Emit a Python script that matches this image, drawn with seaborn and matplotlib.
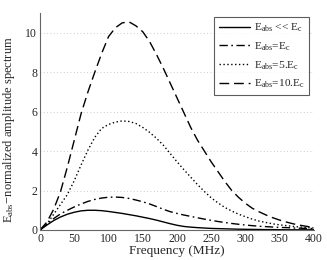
import numpy as np
import pandas as pd
import seaborn as sns
import matplotlib
matplotlib.use("Agg")
import matplotlib.pyplot as plt

# Frequency grid (MHz)
freq = list(range(0, 401, 10))

# Amplitude spectra
e_low = [0, 0.25, 0.48, 0.66, 0.80, 0.90, 0.97, 1.00, 1.00, 0.98,
         0.94, 0.89, 0.84, 0.78, 0.72, 0.65, 0.58, 0.50, 0.41, 0.32,
         0.24, 0.18, 0.145, 0.12, 0.10, 0.08, 0.07, 0.06, 0.05, 0.04,
         0.035, 0.03, 0.025, 0.02, 0.02, 0.015, 0.01, 0.01, 0.01, 0.01, 0.01]
e_1 = [0, 0.30, 0.58, 0.82, 1.00, 1.17, 1.32, 1.45, 1.55, 1.62,
       1.66, 1.67, 1.65, 1.60, 1.52, 1.43, 1.32, 1.19, 1.05, 0.93,
       0.84, 0.76, 0.69, 0.62, 0.55, 0.49, 0.43, 0.38, 0.33, 0.29,
       0.25, 0.22, 0.19, 0.17, 0.15, 0.13, 0.12, 0.10, 0.09, 0.08, 0.07]
e_5 = [0, 0.30, 0.80, 1.30, 1.80, 2.50, 3.30, 4.05, 4.70, 5.15,
       5.35, 5.47, 5.53, 5.50, 5.40, 5.20, 4.95, 4.65, 4.30, 3.88,
       3.46, 3.06, 2.68, 2.30, 1.95, 1.63, 1.37, 1.14, 0.96, 0.80,
       0.67, 0.55, 0.45, 0.38, 0.31, 0.26, 0.22, 0.18, 0.15, 0.12, 0.10]
e_10 = [0, 0.40, 1.05, 1.95, 3.20, 4.55, 5.90, 7.00, 8.00, 8.95,
        9.80, 10.25, 10.50, 10.55, 10.35, 10.05, 9.55, 8.90, 8.20, 7.45,
        6.70, 5.95, 5.20, 4.55, 4.00, 3.45, 2.95, 2.45, 2.00, 1.65,
        1.35, 1.10, 0.92, 0.76, 0.62, 0.50, 0.40, 0.31, 0.24, 0.18, 0.13]

labels = [r'$\mathregular{E_{abs}}$ << $\mathregular{E_c}$',
          r'$\mathregular{E_{abs}}$=$\mathregular{E_c}$',
          r'$\mathregular{E_{abs}}$=5.$\mathregular{E_c}$',
          r'$\mathregular{E_{abs}}$=10.$\mathregular{E_c}$']
x_ticks = [0, 50, 100, 150, 200, 250, 300, 350, 400]
y_ticks = [0, 2, 4, 6, 8, 10]

sns.set_style("white")
plt.rcParams['font.family'] = ['Liberation Serif', 'DejaVu Serif']
plt.rcParams['mathtext.fontset'] = 'custom'
plt.rcParams['mathtext.rm'] = 'Liberation Serif'

fig = plt.figure(figsize=(3.27, 2.60), dpi=100)
ax = fig.add_axes([40/327, 30/260, 274/327, 217/260])

styles = [
    dict(linestyle='-'),
    dict(linestyle=(0, (6, 2.5, 1.2, 2.5))),
    dict(linestyle=(0, (1.0, 1.8))),
    dict(linestyle=(0, (7, 3.5))),
]
series = [e_low, e_1, e_5, e_10]
for vals, lab, st in zip(series, labels, styles):
    df = pd.DataFrame({'f': freq, 'v': vals})
    sns.lineplot(data=df, x='f', y='v', ax=ax, color='black', lw=1.0,
                 label=lab, **st)

ax.set_xlim(0, 400)
ax.set_ylim(0, 11)
ax.set_xticks(x_ticks)
ax.set_yticks(y_ticks)
ax.tick_params(direction='in', length=2.5, labelsize=8.5, color='#555555', pad=2)
ax.yaxis.grid(True, linestyle=(0, (1, 3)), color='#bbbbbb', lw=0.6)
ax.xaxis.grid(False)
for s in ['top', 'right']:
    ax.spines[s].set_visible(False)
for s in ['left', 'bottom']:
    ax.spines[s].set_color('#666666')
    ax.spines[s].set_linewidth(0.8)

ax.set_xlabel('Frequency (MHz)', fontsize=9.5, labelpad=0)
ax.set_ylabel(r'$\mathregular{E_{abs}}$' + '\u2212normalized amplitude spectrum',
              fontsize=9.0)
ax.yaxis.set_label_coords(-0.084, 0.463)

leg = ax.legend(loc='upper right', bbox_to_anchor=(269/274, 213/217),
                fontsize=8.2, frameon=True, fancybox=False, handlelength=2.7,
                handletextpad=0.35, borderpad=0.4, labelspacing=0.55,
                borderaxespad=0)
leg.get_frame().set_edgecolor('#333333')
leg.get_frame().set_linewidth(0.8)

fig.savefig('out.png', dpi=100)
